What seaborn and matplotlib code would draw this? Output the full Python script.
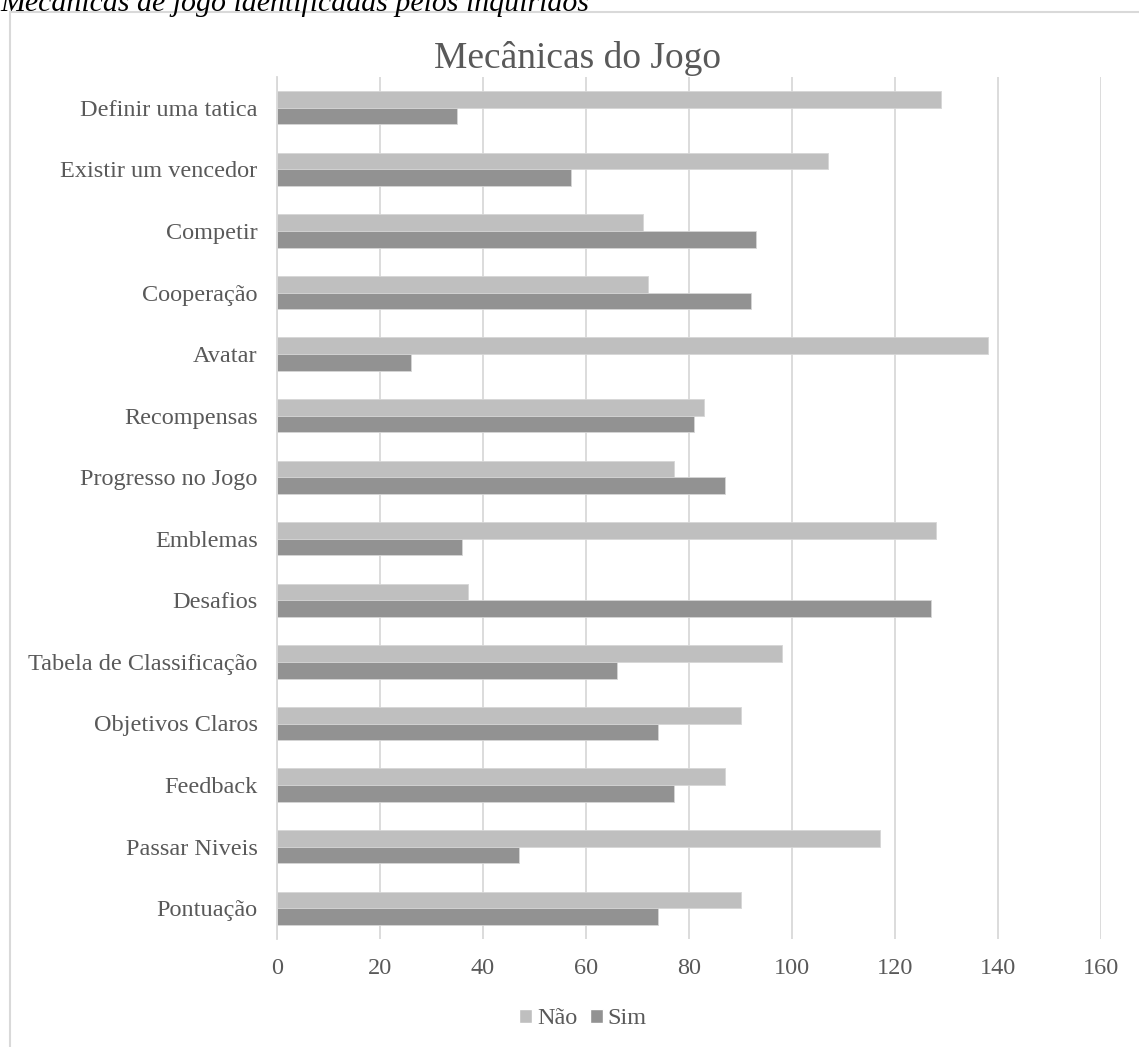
import matplotlib
matplotlib.use("Agg")
import matplotlib.pyplot as plt
from matplotlib.patches import Rectangle, Patch
import pandas as pd
import seaborn as sns

categorias = [
    "Definir uma tatica", "Existir um vencedor", "Competir", "Cooperação",
    "Avatar", "Recompensas", "Progresso no Jogo", "Emblemas", "Desafios",
    "Tabela de Classificação", "Objetivos Claros", "Feedback",
    "Passar Niveis", "Pontuação",
]
nao = [129, 107, 71, 72, 138, 83, 77, 128, 37, 98, 90, 87, 117, 90]
sim = [35, 57, 93, 92, 26, 81, 87, 36, 127, 66, 74, 77, 47, 74]
series = ["Não", "Sim"]
x_ticks = [0, 20, 40, 60, 80, 100, 120, 140, 160]

df = pd.DataFrame({
    "Mecânica": categorias * 2,
    "Resposta": [series[0]] * len(categorias) + [series[1]] * len(categorias),
    "Total": nao + sim,
})

sns.set_theme(style="white")
plt.rcParams["font.family"] = ["Liberation Serif", "DejaVu Serif"]
text_col = "#595959"
grid_col = "#d9d9d9"
cores = {"Não": "#bfbfbf", "Sim": "#929292"}

fig = plt.figure(figsize=(11.39, 10.47), dpi=100)
W, H = 1139, 1047
ax = fig.add_axes([277 / W, 1 - 939 / H, (1101 - 277) / W, (939 - 77) / H])

sns.barplot(
    data=df, y="Mecânica", x="Total", hue="Resposta", order=categorias,
    hue_order=series, palette=cores,
    orient="h", width=0.54, edgecolor="#d6d6d6", linewidth=0.6,
    ax=ax, legend=False,
)

ax.set_xlim(0, 160)
ax.set_xticks(x_ticks)
ax.set_xticklabels([str(t) for t in x_ticks])
ax.set_xlabel("")
ax.set_ylabel("")
ax.xaxis.grid(True, color=grid_col, linewidth=1.3)
ax.set_axisbelow(True)
for s in ["top", "right", "bottom"]:
    ax.spines[s].set_visible(False)
ax.spines["left"].set_color(grid_col)
ax.spines["left"].set_linewidth(1.3)
ax.tick_params(axis="both", length=0, labelcolor=text_col, labelsize=17.5)
ax.tick_params(axis="x", pad=14)
ax.tick_params(axis="y", pad=14)

# chart title
fig.text(577 / W, 1 - 58 / H, "Mecânicas do Jogo", ha="center", va="center",
         fontsize=27, color=text_col)

# figure caption above the chart frame
fig.text(0, 1 - 11 / H, "Mecânicas de jogo identificadas pelos inquiridos",
         ha="left", va="baseline", fontsize=21.5, style="italic", color="black")

# chart frame
fig.patches.append(Rectangle((10 / W, -0.05), 1.1, 1 - 12 / H + 0.05,
                             transform=fig.transFigure, fill=False,
                             edgecolor=grid_col, linewidth=1.5))

# legend
handles = [Patch(facecolor=cores[s], label=s) for s in series]
fig.legend(handles=handles, loc="center", bbox_to_anchor=(583 / W, 1 - 1019 / H),
           ncol=2, frameon=False, fontsize=17.5, labelcolor=text_col,
           handlelength=0.55, handleheight=0.55, handletextpad=0.2, columnspacing=0.5)

fig.savefig("out.png", dpi=100)
